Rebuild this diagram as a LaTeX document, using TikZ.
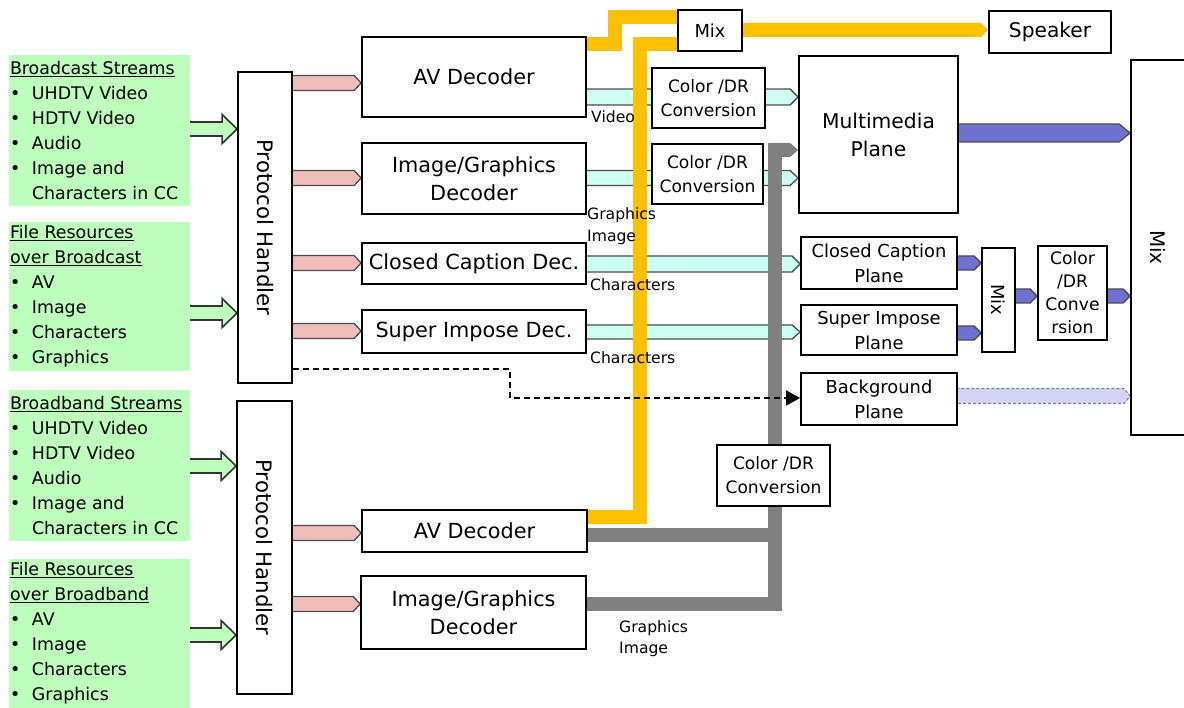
\documentclass[tikz,border=0pt]{standalone}
\usepackage{fontspec}
\setmainfont{DejaVu Sans}
\usetikzlibrary{calc,arrows.meta}
\definecolor{gfill}{RGB}{190,255,190}
\definecolor{pinkc}{RGB}{240,188,188}
\definecolor{cyanc}{RGB}{204,255,240}
\definecolor{purp}{RGB}{112,112,208}
\definecolor{yel}{RGB}{255,192,0}
\definecolor{grayc}{RGB}{128,128,128}
\definecolor{lav}{RGB}{212,212,245}
\pgfdeclarelayer{back}
\pgfsetlayers{back,main}
\newcommand{\farrow}[6]{%
  \path[#1] let \p1=#2, \p2=#3 in
    (\x1-1.5pt,\y1+#4pt) -- (\x2-#5pt,\y1+#4pt) -- (\x2-#5pt,\y1+#6pt) -- (\x2,\y1)
    -- (\x2-#5pt,\y1-#6pt) -- (\x2-#5pt,\y1-#4pt) -- (\x1-1.5pt,\y1-#4pt) -- cycle;}
\newcommand{\bul}{\makebox[22pt][l]{•}}
\newcommand{\ind}{\hspace*{22pt}}
\begin{document}
\begin{tikzpicture}[x=1pt,y=-1pt,
  box/.style={draw=black, line width=1.8pt, fill=white, inner sep=0pt, align=center},
  dec/.style={box, font=\fontsize{20.8}{28}\selectfont},
  conv/.style={box, font=\fontsize{17.1}{24}\selectfont},
  plane/.style={box, font=\fontsize{17.9}{25}\selectfont},
  rtext/.style={rotate=-90, inner sep=0pt},
  gbox/.style={fill=gfill, draw=none, inner sep=0pt},
  gtext/.style={inner xsep=1pt, inner ysep=0pt, align=left, font=\fontsize{17.4}{25}\selectfont},
  lbl/.style={inner sep=0pt, align=left, font=\fontsize{15.6}{21}\selectfont},
  garrow/.style={fill=gfill, draw=black!80, line width=1.6pt, line join=miter},
  parrow/.style={fill=pinkc, draw=black!70, line width=1.3pt},
  carrow/.style={fill=cyanc, draw=black!70, line width=1.3pt},
  uarrow/.style={fill=purp, draw=black!70, line width=1.3pt},
  larrow/.style={fill=lav, draw=black!50, line width=1.1pt, dash pattern=on 3pt off 2pt},
  yarrow/.style={fill=yel},
  karrow/.style={fill=grayc},
  yline/.style={draw=yel, line width=14pt, line join=miter},
  kline/.style={draw=grayc, line width=14pt, line join=miter},
  dline/.style={draw=black, line width=1.5pt, dash pattern=on 6pt off 4pt, -{Triangle[length=14pt,width=15pt]}}
]
\useasboundingbox (0,0) rectangle (1184,708);

% green source boxes
\node[gbox, minimum width=181pt, minimum height=151pt] (bs) at (99.5,130.5) {};
\node[gtext, anchor=west] (bst) at (bs.west) {\underline{Broadcast Streams}\\\bul UHDTV Video\\\bul HDTV Video\\\bul Audio\\\bul Image and\\\ind Characters in CC};
\node[gbox, minimum width=181pt, minimum height=149pt] (fb) at (99.5,296.5) {};
\node[gtext, anchor=west] (fbt) at (fb.west) {\underline{File Resources}\\\underline{over Broadcast}\\\bul AV\\\bul Image\\\bul Characters\\\bul Graphics};
\node[gbox, minimum width=181pt, minimum height=151pt] (bb) at (99.5,465.5) {};
\node[gtext, anchor=west] (bbt) at (bb.west) {\underline{Broadband Streams}\\\bul UHDTV Video\\\bul HDTV Video\\\bul Audio\\\bul Image and\\\ind Characters in CC};
\node[gbox, minimum width=181pt, minimum height=149pt] (fbb) at (99.5,633.5) {};
\node[gtext, anchor=west] (fbbt) at (fbb.west) {\underline{File Resources}\\\underline{over Broadband}\\\bul AV\\\bul Image\\\bul Characters\\\bul Graphics};

% protocol handlers
\node[box, minimum width=54pt, minimum height=311pt] (ph1) at (265,227.5) {};
\node[rtext, font=\fontsize{21.3}{24}\selectfont] (ph1t) at (ph1.center) {Protocol Handler};
\node[box, minimum width=55pt, minimum height=293pt] (ph2) at (264.5,547.5) {};
\node[rtext, font=\fontsize{21.3}{24}\selectfont] (ph2t) at (ph2.center) {Protocol Handler};

% decoders
\node[dec, minimum width=224pt, minimum height=80pt] (avd1) at (474,77) {AV Decoder};
\node[dec, minimum width=224pt, minimum height=71pt] (igd1) at (474,178.5) {Image/Graphics\\Decoder};
\node[dec, minimum width=224pt, minimum height=41pt] (ccd) at (474,263.5) {Closed Caption Dec.};
\node[dec, minimum width=224pt, minimum height=43pt] (sid) at (474,331.5) {Super Impose Dec.};
\node[dec, minimum width=225pt, minimum height=42pt] (avd2) at (474.5,531) {AV Decoder};
\node[dec, minimum width=225pt, minimum height=72.6pt] (igd2) at (473.5,612.3) {Image/Graphics\\Decoder};

% conversions
\node[conv, minimum width=113pt, minimum height=60pt] (cv1) at (708.5,98) {Color /DR\\Conversion};
\node[conv, minimum width=111pt, minimum height=60pt] (cv2) at (707.5,174) {Color /DR\\Conversion};
\node[conv, minimum width=113pt, minimum height=61pt] (cv3) at (773.5,475.5) {Color /DR\\Conversion};
\node[box, font=\fontsize{17.2}{23}\selectfont, minimum width=69pt, minimum height=94pt] (cv4) at (1072.5,293) {Color\\/DR\\Conve\\rsion};

% planes
\node[box, font=\fontsize{20.3}{28}\selectfont, minimum width=159pt, minimum height=157pt] (mmp) at (878.5,134.5) {Multimedia\\Plane};
\node[plane, minimum width=156pt, minimum height=52pt] (ccp) at (879,263) {Closed Caption\\Plane};
\node[plane, minimum width=156pt, minimum height=50pt] (sip) at (879,330) {Super Impose\\Plane};
\node[plane, minimum width=156pt, minimum height=52pt] (bgp) at (879,399) {Background\\Plane};

% mixes and speaker
\node[box, font=\fontsize{17.9}{22}\selectfont, minimum width=64pt, minimum height=41pt] (tmix) at (710,30.5) {Mix};
\node[box, font=\fontsize{20.2}{24}\selectfont, minimum width=122pt, minimum height=42pt] (spk) at (1050,32) {Speaker};
\node[box, minimum width=33pt, minimum height=104pt] (smix) at (998.5,300) {};
\node[rtext, font=\fontsize{17.9}{22}\selectfont] (smixt) at (smix.center) {Mix};
\node[box, minimum width=54pt, minimum height=375pt] (bmix) at (1158,247.5) {};
\node[rtext, font=\fontsize{20}{24}\selectfont] (bmixt) at (bmix.center) {Mix};

\begin{pgfonlayer}{back}
% green inputs
\farrow{garrow}{(bs.east|-0,129)}{(ph1.west|-0,129)}{7}{15}{14.5}
\farrow{garrow}{(fb.east|-0,313)}{(ph1.west|-0,313)}{7}{15}{14.5}
\farrow{garrow}{(bb.east|-0,466)}{(ph2.west|-0,466)}{7}{15}{14.5}
\farrow{garrow}{(fbb.east|-0,635)}{(ph2.west|-0,635)}{7}{15}{14.5}
% pink
\farrow{parrow}{(ph1.east|-0,83)}{(avd1.west|-0,83)}{7.5}{7}{7.5}
\farrow{parrow}{(ph1.east|-0,178)}{(igd1.west|-0,178)}{7.5}{7}{7.5}
\farrow{parrow}{(ph1.east|-0,263)}{(ccd.west|-0,263)}{7.5}{7}{7.5}
\farrow{parrow}{(ph1.east|-0,331)}{(sid.west|-0,331)}{7.5}{7}{7.5}
\farrow{parrow}{(ph2.east|-0,533)}{(avd2.west|-0,533)}{7.5}{7}{7.5}
\farrow{parrow}{(ph2.east|-0,604)}{(igd2.west|-0,604)}{7.5}{7}{7.5}
% cyan
\farrow{carrow}{(avd1.east|-0,97)}{(mmp.west|-0,97)}{8}{8}{8}
\farrow{carrow}{(igd1.east|-0,178)}{(mmp.west|-0,178)}{7.5}{8}{7.5}
\farrow{carrow}{(ccd.east|-0,264)}{(ccp.west|-0,264)}{8}{8}{8}
\farrow{carrow}{(sid.east|-0,332)}{(sip.west|-0,332)}{7}{8}{7}
% purple
\farrow{uarrow}{(mmp.east|-0,133)}{(bmix.west|-0,133)}{9}{11}{9}
\farrow{uarrow}{(ccp.east|-0,263)}{(smix.west|-0,263)}{7}{7}{7}
\farrow{uarrow}{(sip.east|-0,333)}{(smix.west|-0,333)}{7}{7}{7}
\farrow{uarrow}{(smix.east|-0,296)}{(cv4.west|-0,296)}{7}{7}{7}
\farrow{uarrow}{(cv4.east|-0,296)}{(bmix.west|-0,296)}{7}{7}{7}
\farrow{larrow}{(bgp.east|-0,396)}{(bmix.west|-0,396)}{7.5}{6}{7.5}
% audio (yellow)
\draw[yline] (avd1.east|-0,44) -- (614.5,44) -- (614.5,17) -- (tmix.west|-0,17);
\draw[yline] (avd2.east|-0,517) -- (640,517) -- (640,44) -- (tmix.west|-0,44);
\farrow{yarrow}{(tmix.east|-0,30)}{(spk.west|-0,30)}{7}{7}{7}
% broadband video/graphics (gray)
\draw[kline] (avd2.east|-0,535) -- (774.5,535);
\draw[kline] (igd2.east|-0,604) -- (774.5,604) -- (774.5,150) -- (782,150);
\farrow{karrow}{(774.5,150)}{(mmp.west|-0,150)}{7}{8}{7}
% background path
\draw[dline] (ph1.east|-0,369) -- (510,369) -- (510,398) -- (bgp.west|-0,398);
\end{pgfonlayer}

% labels
\node[lbl, anchor=base west] (lvid) at (591,123) {Video};
\node[lbl, anchor=north west, font=\fontsize{15.6}{22}\selectfont] (lgi1) at (587,207) {Graphics\\Image};
\node[lbl, anchor=base west] (lch1) at (590,291) {Characters};
\node[lbl, anchor=base west] (lch2) at (590,364) {Characters};
\node[lbl, anchor=north west, font=\fontsize{15.6}{21}\selectfont] (lgi2) at (619,620) {Graphics\\Image};
\end{tikzpicture}
\end{document}
